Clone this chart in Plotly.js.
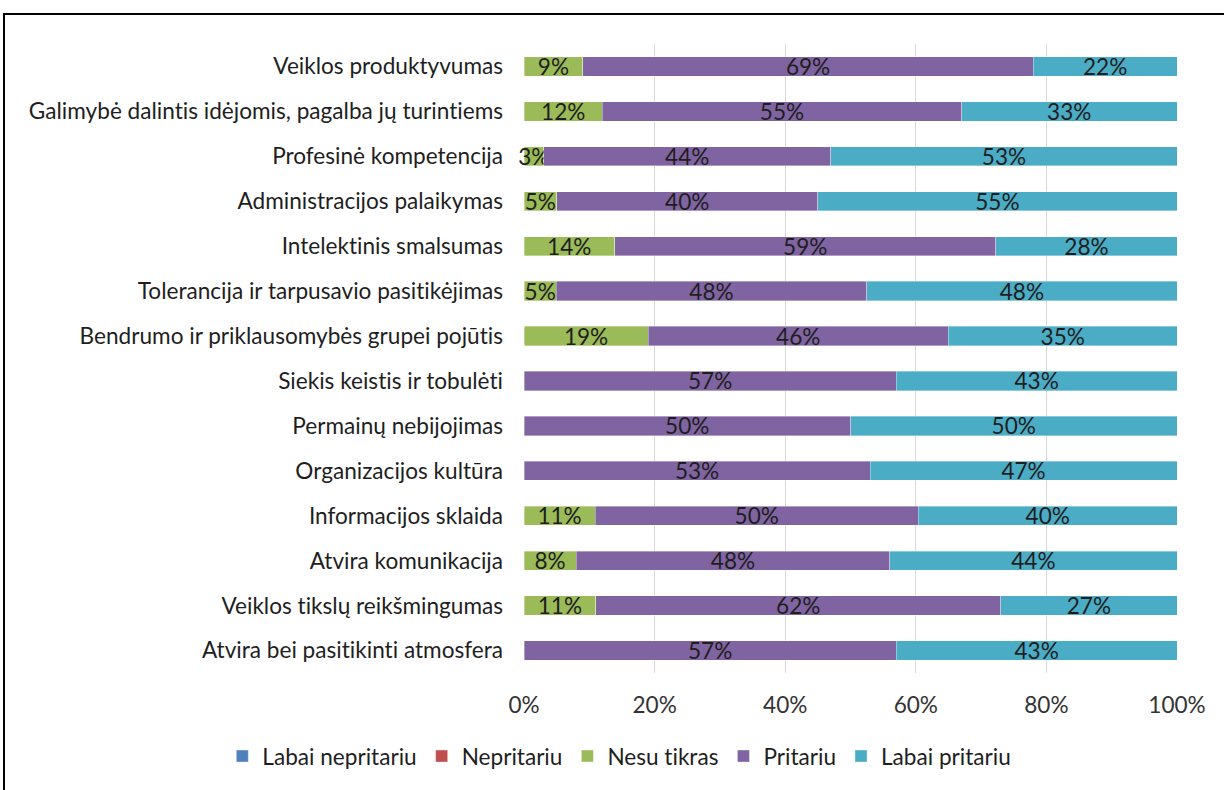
<!DOCTYPE html>
<html>
<head>
<meta charset="utf-8">
<script src="https://cdn.plot.ly/plotly-3.0.1.min.js"></script>
<style>
html,body{margin:0;padding:0;background:#fff;overflow:hidden;}
#wrap{position:relative;width:1224px;height:790px;}
#chart{width:1224px;height:790px;}
#frame{position:absolute;left:3px;top:12.5px;width:1400px;height:900px;border:2.5px solid #000;pointer-events:none;box-sizing:border-box;}
svg text{font-variant-ligatures:none;font-feature-settings:"liga" 0, "clig" 0;}
</style>
</head>
<body>
<div id="wrap"><div id="chart"></div><div id="frame"></div></div>
<script>
const categories = [
  "Veiklos produktyvumas",
  "Galimybė dalintis idėjomis, pagalba jų turintiems",
  "Profesinė kompetencija",
  "Administracijos palaikymas",
  "Intelektinis smalsumas",
  "Tolerancija ir tarpusavio pasitikėjimas",
  "Bendrumo ir priklausomybės grupei pojūtis",
  "Siekis keistis ir tobulėti",
  "Permainų nebijojimas",
  "Organizacijos kultūra",
  "Informacijos sklaida",
  "Atvira komunikacija",
  "Veiklos tikslų reikšmingumas",
  "Atvira bei pasitikinti atmosfera"
];
const seriesNames = ["Labai nepritariu", "Nepritariu", "Nesu tikras", "Pritariu", "Labai pritariu"];
const labaiNepritariu = [0,0,0,0,0,0,0,0,0,0,0,0,0,0];
const nepritariu      = [0,0,0,0,0,0,0,0,0,0,0,0,0,0];
const nesuTikras      = [9,12,3,5,14,5,19,0,0,0,11,8,11,0];
const pritariu        = [69,55,44,40,59,48,46,57,50,53,50,48,62,57];
const labaiPritariu   = [22,33,53,55,28,48,35,43,50,47,40,44,27,43];
const colors = ["#4F81BD", "#C0504D", "#9BBB59", "#8064A2", "#4BACC6"];
const tickVals = [0,20,40,60,80,100];
const tickText = ["0%","20%","40%","60%","80%","100%"];

const seriesValues = [labaiNepritariu, nepritariu, nesuTikras, pritariu, labaiPritariu];
const font = "Lato, Liberation Sans, Arial, sans-serif";
const fs = 22.6;

const traces = seriesValues.map((vals, i) => ({
  type: "bar",
  orientation: "h",
  name: seriesNames[i],
  y: categories,
  x: vals,
  text: vals.map(v => v > 0 ? v + "%" : ""),
  textposition: "inside",
  insidetextanchor: "middle",
  constraintext: "none",
  cliponaxis: false,
  textfont: {family: font, size: fs, color: "#1e1e1e"},
  marker: {color: colors[i], line: {color: "rgba(255,255,255,0.6)", width: 0.6}},
  hoverinfo: "name+x"
}));

const layout = {
  width: 1224, height: 790,
  margin: {l: 524, r: 47, t: 43.5, b: 116.5},
  paper_bgcolor: "#fff", plot_bgcolor: "#fff",
  barmode: "stack",
  barnorm: "percent",
  bargap: 0.57,
  font: {family: font, size: fs, color: "#1e1e1e"},
  showlegend: true,
  legend: {orientation: "h", x: -0.462, xanchor: "left", y: -0.1325, yanchor: "middle",
           font: {family: font, size: fs, color: "#1e1e1e"}, traceorder: "normal"},
  xaxis: {range: [0, 100], tickvals: tickVals, ticktext: tickText, showgrid: true,
          gridcolor: "#d9d9d9", gridwidth: 1, zeroline: false, showline: false,
          ticks: "", ticklabelstandoff: 16, tickfont: {family: font, size: fs, color: "#333"}, fixedrange: true},
  yaxis: {type: "category", autorange: "reversed", showgrid: false, zeroline: false,
          showline: false, ticks: "", ticklabelstandoff: 20,
          tickfont: {family: font, size: fs, color: "#1e1e1e"}, fixedrange: true}
};

Plotly.newPlot("chart", traces, layout, {displayModeBar: false, staticPlot: true});
</script>
</body>
</html>
